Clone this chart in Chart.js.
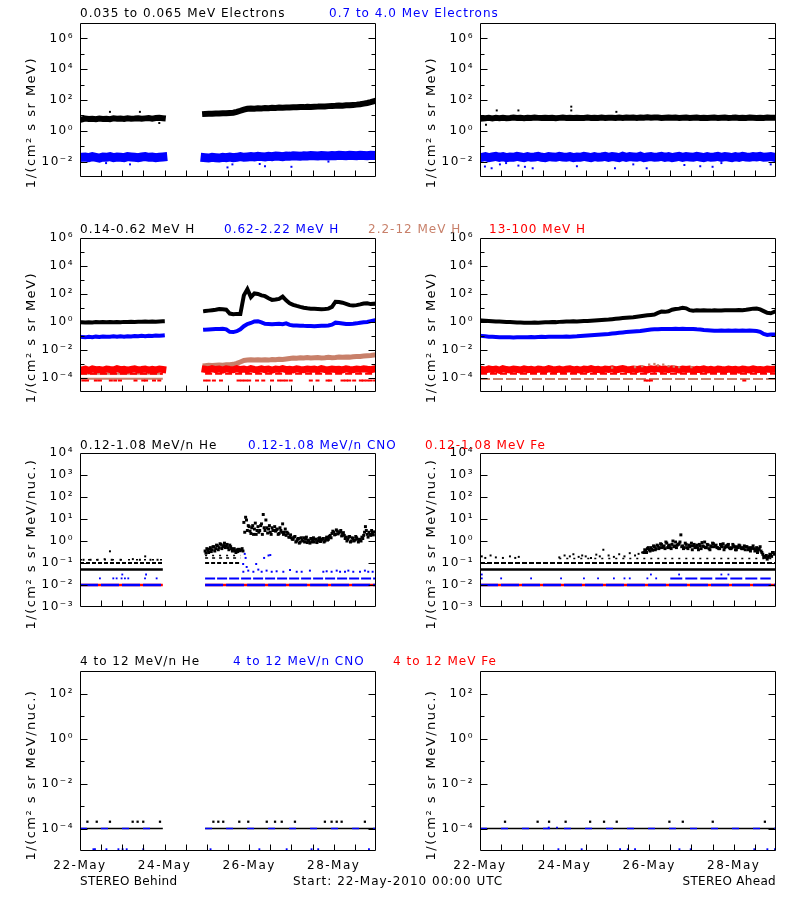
<!DOCTYPE html>
<html><head><meta charset="utf-8">
<script src="https://cdn.jsdelivr.net/npm/chart.js@4.4.1/dist/chart.umd.min.js"></script>
<style>
html,body{margin:0;padding:0;background:#fff;}
#page{position:relative;width:800px;height:900px;background:#fff;overflow:hidden;font-family:"DejaVu Sans",sans-serif;}
canvas.panel{position:absolute;}
.t{position:absolute;font-size:12px;letter-spacing:1px;white-space:nowrap;line-height:16px;}
</style></head><body>
<div id="page">
<canvas id="c1L" class="panel" width="400" height="208" style="left:0;top:9px"></canvas>
<canvas id="c1R" class="panel" width="400" height="208" style="left:400px;top:9px"></canvas>
<canvas id="c2L" class="panel" width="400" height="208" style="left:0;top:224px"></canvas>
<canvas id="c2R" class="panel" width="400" height="208" style="left:400px;top:224px"></canvas>
<canvas id="c3L" class="panel" width="400" height="208" style="left:0;top:439px"></canvas>
<canvas id="c3R" class="panel" width="400" height="208" style="left:400px;top:439px"></canvas>
<canvas id="c4L" class="panel" width="400" height="243" style="left:0;top:657px"></canvas>
<canvas id="c4R" class="panel" width="400" height="243" style="left:400px;top:657px"></canvas>

<div class="t" style="left:80px;top:5px;color:#000">0.035 to 0.065 MeV Electrons</div>
<div class="t" style="left:329px;top:5px;color:#0000ff">0.7 to 4.0 Mev Electrons</div>
<div class="t" style="left:80px;top:221px;color:#000">0.14-0.62 MeV H</div>
<div class="t" style="left:224px;top:221px;color:#0000ff">0.62-2.22 MeV H</div>
<div class="t" style="left:368px;top:221px;color:#c8806a">2.2-12 MeV H</div>
<div class="t" style="left:489px;top:221px;color:#ff0000">13-100 MeV H</div>
<div class="t" style="left:80px;top:437px;color:#000">0.12-1.08 MeV/n He</div>
<div class="t" style="left:248px;top:437px;color:#0000ff">0.12-1.08 MeV/n CNO</div>
<div class="t" style="left:425px;top:437px;color:#ff0000">0.12-1.08 MeV Fe</div>
<div class="t" style="left:80px;top:653px;color:#000">4 to 12 MeV/n He</div>
<div class="t" style="left:233px;top:653px;color:#0000ff">4 to 12 MeV/n CNO</div>
<div class="t" style="left:393px;top:653px;color:#ff0000">4 to 12 MeV Fe</div>
<div class="t" style="left:80px;top:873px;color:#000;letter-spacing:0.3px">STEREO Behind</div>
<div class="t" style="left:293px;top:873px;color:#000">Start: 22-May-2010 00:00 UTC</div>
<div class="t" style="right:24px;top:873px;color:#000;letter-spacing:0.3px">STEREO Ahead</div>
</div>
<script>
// ---------- axis tick values / labels ----------
const xTickHours = [0, 48, 96, 144];
const xTickLabels = ['22-May', '24-May', '26-May', '28-May'];
const yTicksElec = [1e-2, 1, 1e2, 1e4, 1e6];
const yTicksH = [1e-4, 1e-2, 1, 1e2, 1e4, 1e6];
const yTicksLowE = [1e-3, 1e-2, 1e-1, 1, 1e1, 1e2, 1e3, 1e4];
const yTicksHighE = [1e-4, 1e-2, 1, 1e2];

// ---------- Row 1: electrons (values every 2 h, starting hour 1) ----------
const elecLoB = [5.5,6.2,5.8,6.0,5.6,6.3,5.9,6.1,5.7,6.4,6.0,6.2,5.8,6.5,6.1,6.3,6.6,6.0,6.4,6.8,6.2,6.7,7.0,6.6,
  null,null,null,null,null,null,null,null,null,null,null,
  12.5,13,12.8,13.5,13.2,14,13.6,14.5,15,17,20,24,27,28,27,29,28.5,30,29.5,31,30.5,32,31.5,33,32.5,34,33.5,35,34.5,
  36,35.5,37,37.5,38.5,38,40,41,42,44,43,46,45,48,50,53,58,64,72,85];
const elecHiB = [0.019,0.020,0.018,0.021,0.019,0.017,0.020,0.019,0.021,0.018,0.020,0.019,0.018,0.021,0.020,0.019,0.018,0.020,0.021,0.019,0.020,0.018,0.019,0.020,
  null,null,null,null,null,null,null,null,null,null,null,
  0.018,0.017,0.019,0.018,0.017,0.019,0.018,0.020,0.018,0.019,0.021,0.019,0.020,0.021,0.020,0.022,0.021,0.020,0.022,0.021,
  0.023,0.022,0.021,0.023,0.022,0.024,0.023,0.022,0.024,0.023,0.025,0.024,0.023,0.025,0.024,0.023,0.025,0.024,0.026,0.025,
  0.024,0.026,0.025,0.024,0.026,0.025,0.024,0.026,0.025];
const elecLoBOutH = [17, 34, 45];
const elecLoBOutV = [17, 17, 3.2];
const elecHiBOutH = [14.8, 28.4, 83.7, 86.5, 102, 105, 120, 141];
const elecHiBOutV = [0.008, 0.0066, 0.0042, 0.0066, 0.007, 0.005, 0.0046, 0.01];

const elecLoA = [6.2,6.6,6.9,6.4,7.0,6.6,7.1,6.5,6.8,7.2,6.7,6.9,
  6.6,7.0,6.8,7.2,6.9,6.7,7.1,6.8,7.0,6.6,6.9,7.2,
  6.8,7.0,6.7,7.1,6.9,6.8,7.2,6.7,7.0,6.9,7.3,6.8,
  7.1,7.0,6.8,7.2,6.9,7.4,7.0,7.2,6.9,7.3,7.1,7.5,
  7.0,7.2,7.4,6.9,7.1,7.3,7.0,7.2,6.9,7.1,7.3,6.8,
  7.0,7.2,6.9,7.1,6.8,7.0,7.2,6.9,7.1,7.3,6.9,7.0,
  7.2,6.8,7.1,6.9,7.2,7.0,6.8,7.1,6.9,7.2,7.0,7.1];
const elecHiA = [0.019,0.021,0.018,0.020,0.022,0.019,0.021,0.018,0.020,0.019,0.022,0.020,
  0.018,0.021,0.019,0.020,0.022,0.019,0.018,0.021,0.020,0.019,0.022,0.020,
  0.019,0.021,0.018,0.020,0.019,0.022,0.020,0.018,0.021,0.019,0.020,0.022,
  0.019,0.021,0.020,0.018,0.022,0.019,0.021,0.020,0.019,0.022,0.018,0.020,
  0.021,0.019,0.020,0.022,0.019,0.021,0.018,0.020,0.022,0.019,0.021,0.020,
  0.019,0.022,0.020,0.018,0.021,0.019,0.020,0.022,0.019,0.021,0.020,0.018,
  0.021,0.019,0.022,0.020,0.019,0.021,0.020,0.022,0.019,0.020,0.021,0.019];
const elecLoAOutH = [3.4, 9.5, 21.8, 51.8, 51.8, 77.4];
const elecLoAOutV = [2.5, 21, 21, 37, 21, 17];
const elecHiAOutH = [2.8, 6.6, 11.3, 14.8, 21.8, 25.5, 29.9, 55, 76.6, 87, 94.6, 116, 125, 132, 137, 165];
const elecHiAOutV = [0.0048, 0.0037, 0.0066, 0.008, 0.0055, 0.0046, 0.0037, 0.005, 0.0037, 0.0066, 0.0037, 0.006, 0.005, 0.0046, 0.008, 0.0066];

// ---------- Row 2: protons (values every 2 h, starting hour 1) ----------
const protBlackB = [0.95,0.92,0.97,0.94,0.98,0.95,0.99,0.96,1.0,0.97,1.01,0.98,1.02,1.0,1.04,1.01,1.05,1.03,1.07,1.04,1.08,1.06,1.1,1.12,
  null,null,null,null,null,null,null,null,null,null,null,
  6.0,6.5,7.0,7.5,8.5,8.0,7.5,4.0,3.6,3.8, 3.7,80,220,60,110,100,80,70,50,38,
  40,45,65,35,22,17,14,12,10.5,9.5, 9.0,8.8,8.5,8.3,8.5,9.0,12,28,27,24, 20,16,15,16,18,21,22,19,20];
const protBlueB = [0.085,0.08,0.088,0.082,0.09,0.085,0.092,0.087,0.09,0.094,0.088,0.095,0.09,0.097,0.093,0.1,0.095,0.102,0.098,0.105,0.1,0.108,0.104,0.11,
  null,null,null,null,null,null,null,null,null,null,null,
  0.28,0.29,0.3,0.31,0.32,0.33,0.3,0.2,0.19,0.22, 0.3,0.5,0.72,0.85,1.1,1.15,0.95,0.75,0.72,0.7,
  0.72,0.75,0.7,0.8,0.62,0.57,0.56,0.55,0.53,0.52, 0.52,0.5,0.52,0.54,0.55,0.57,0.65,0.9,0.85,0.78,
  0.72,0.72,0.75,0.8,0.88,0.95,1.0,1.15,1.3];
const protTanB = [null,null,null,null,null,null,null,null,null,null,null,null,null,null,null,null,null,null,null,null,null,null,null,null,
  null,null,null,null,null,null,null,null,null,null,null,
  7.5e-4,8e-4,7.8e-4,8.2e-4,8.5e-4,8.3e-4,8.8e-4,9e-4,9.5e-4,1.1e-3, 1.4e-3,1.8e-3,1.9e-3,2.0e-3,1.9e-3,2.0e-3,1.95e-3,2.0e-3,1.9e-3,2.1e-3,
  2.0e-3,2.2e-3,2.1e-3,2.3e-3,2.5e-3,2.7e-3,2.6e-3,2.8e-3,2.7e-3,2.9e-3, 2.7e-3,2.8e-3,2.9e-3,2.7e-3,2.8e-3,3.0e-3,2.8e-3,2.9e-3,3.1e-3,3.0e-3,
  3.2e-3,3.1e-3,3.3e-3,3.4e-3,3.5e-3,3.7e-3,3.9e-3,4.1e-3,4.4e-3];
const protRedB = [3.8e-4,4.3e-4,3.5e-4,4.5e-4,3.9e-4,4.1e-4,3.6e-4,4.4e-4,4.0e-4,3.7e-4,4.6e-4,3.9e-4,4.2e-4,3.6e-4,4.1e-4,4.5e-4,3.8e-4,4.0e-4,4.4e-4,3.7e-4,4.2e-4,3.8e-4,4.3e-4,4.0e-4,
  null,null,null,null,null,null,null,null,null,null,null,
  4.2e-4,3.8e-4,4.6e-4,4.0e-4,4.4e-4,3.7e-4,4.5e-4,4.1e-4,3.9e-4,4.7e-4, 4.0e-4,4.3e-4,3.8e-4,4.6e-4,4.1e-4,3.9e-4,4.5e-4,4.0e-4,4.4e-4,3.7e-4,
  4.3e-4,4.0e-4,4.6e-4,3.9e-4,4.2e-4,3.8e-4,4.5e-4,4.1e-4,3.9e-4,4.4e-4, 4.0e-4,4.3e-4,3.8e-4,4.6e-4,4.1e-4,3.9e-4,4.4e-4,4.0e-4,4.2e-4,3.8e-4,
  4.5e-4,4.1e-4,3.9e-4,4.3e-4,4.0e-4,4.6e-4,4.2e-4,3.9e-4,4.4e-4];
const protLowB = [1.9, 4, 9, 11.3, 17.5, 20, 22.7, 31.5, 35.9, 37.5, 42, 45, 71, 73, 76, 80, 90, 92, 94, 96, 100.5, 104, 109, 113, 115, 117, 119.6, 131, 134.8, 140.5, 142, 149, 151, 152.8, 155.6, 159.4, 161, 163, 165, 167.5];

const protBlackA = [1.3,1.25,1.2,1.15,1.1,1.08,1.05,1.0,0.98,0.95, 0.93,0.92,0.9,0.88,0.9,0.92,0.9,0.93,0.95,0.97,
  1.0,0.98,1.02,1.05,1.08,1.1,1.12,1.1,1.15,1.2, 1.18,1.25,1.3,1.35,1.4,1.45,1.5,1.6,1.7,1.8,
  1.9,2.0,2.1,2.2,2.4,2.6,2.8,3.0,3.2,3.4, 4.5,5.5,5.3,5.8,7.5,8.5,9.0,10.5,9.5,7.0,
  6.5,6.8,6.6,6.9,6.7,6.5,6.8,6.7,6.6,6.9, 6.8,7.0,6.9,7.2,7.0,7.5,8.2,9.0,9.3,8.0, 6.0,4.5,4.2,5.3];
const protBlueA = [0.1,0.095,0.09,0.088,0.085,0.083,0.08,0.082,0.08,0.078, 0.08,0.082,0.08,0.083,0.085,0.083,0.085,0.087,0.085,0.088,
  0.087,0.09,0.088,0.09,0.092,0.09,0.093,0.095,0.1,0.105, 0.11,0.115,0.12,0.125,0.13,0.135,0.14,0.15,0.16,0.17,
  0.18,0.19,0.2,0.21,0.22,0.23,0.25,0.27,0.29,0.3, 0.3,0.31,0.32,0.31,0.32,0.33,0.32,0.33,0.32,0.31,
  0.32,0.3,0.29,0.27,0.26,0.25,0.24,0.24,0.25,0.24, 0.25,0.24,0.25,0.24,0.25,0.24,0.25,0.24,0.23,0.2, 0.14,0.12,0.13,0.13];
const protRedA = [4.1e-4,3.7e-4,4.5e-4,3.9e-4,4.3e-4,3.6e-4,4.6e-4,4.0e-4,3.8e-4,4.4e-4,4.1e-4,3.7e-4,
  4.5e-4,3.9e-4,4.2e-4,3.6e-4,4.4e-4,4.0e-4,3.8e-4,4.6e-4,4.1e-4,3.9e-4,4.3e-4,3.7e-4,
  4.2e-4,4.5e-4,3.8e-4,4.1e-4,3.6e-4,4.4e-4,4.0e-4,4.6e-4,3.9e-4,4.2e-4,3.7e-4,4.3e-4,
  4.0e-4,4.5e-4,3.8e-4,4.2e-4,4.7e-4,4.1e-4,3.9e-4,4.4e-4,4.0e-4,4.6e-4,4.2e-4,3.8e-4,
  4.5e-4,4.1e-4,4.8e-4,4.0e-4,4.4e-4,3.9e-4,4.6e-4,4.2e-4,3.8e-4,4.4e-4,4.0e-4,4.3e-4,
  3.7e-4,4.2e-4,3.9e-4,4.5e-4,3.8e-4,4.1e-4,3.6e-4,4.4e-4,4.0e-4,3.8e-4,4.3e-4,3.9e-4,
  4.2e-4,3.7e-4,4.4e-4,4.0e-4,3.8e-4,4.5e-4,3.9e-4,4.1e-4,3.7e-4,4.3e-4,4.0e-4,4.2e-4];
const tanSprAH = [75, 88, 92, 96, 99, 101, 104, 107, 110, 113, 120];
const tanSprAV = [5.5e-4, 6e-4, 7e-4, 9e-4, 1e-3, 8e-4, 9e-4, 7e-4, 6.5e-4, 6e-4, 6e-4];
const protLowA = [94, 95.5, 97, 150];

// ---------- Row 3: 0.12-1.08 MeV/n ions ----------
const heB1 = [0.35,0.45,0.30,0.50,0.40,0.55,0.45,0.60,0.50,0.70,
  0.55,0.80,0.60,0.50,0.65,0.45,0.40,0.35,0.40,0.42,
  0.38,0.45,7.0,12,3.0,4.5,2.2,5.0,3.5,2.0,
  4.5,3.0,6.0,16,3.0,4.0,3.5,2.5,4.0,3.0,
  2.8,3.5,2.2,3.0,6.0,2.5,1.8,2.2,1.5,1.4,
  1.2,1.6,1.0,1.3,0.9,1.1,1.4,1.2,0.85,1.0,
  1.3,1.1,0.9,1.2,1.0,1.4,1.1,1.3,1.0,1.5,
  1.2,1.8,2.2,2.5,2.0,2.8,2.4,3.0,2.2,1.8,
  1.5,1.2,1.6,1.0,1.3,1.1,1.4,0.9,1.2,1.5,
  1.8,4.5,2.0,2.5,1.8,2.2,2.6];
const heB2 = [0.28,0.38,0.42,0.33,0.55,0.35,0.65,0.40,0.75,0.45,
  0.62,0.50,0.70,0.40,0.55,0.35,0.45,0.30,0.33,0.36,
  0.40,0.35,2.5,9.0,5.0,2.8,4.0,2.0,6.5,3.0,
  2.5,5.0,2.0,4.0,9.0,2.3,5.0,2.0,3.0,4.5,
  3.2,2.0,4.0,2.5,2.0,3.5,2.5,1.5,1.9,1.2,
  1.5,0.9,1.2,0.8,1.4,1.0,0.9,1.5,1.1,0.8,
  0.9,1.4,1.2,0.85,1.3,0.95,1.2,0.9,1.3,1.1,
  1.6,1.4,2.8,1.9,3.2,2.1,2.6,1.7,2.4,1.3,
  1.0,1.5,0.9,1.4,1.0,1.6,1.2,1.1,1.0,1.3,
  2.5,3.0,1.5,2.0,3.0,1.9];
const heBSparseH = [2, 6, 10, 14, 17, 18, 23, 30, 34, 37, 40, 44];
const heBSparseV = [0.14, 0.14, 0.14, 0.15, 0.34, 0.14, 0.14, 0.15, 0.14, 0.2, 0.14, 0.14];
const cnoB02H = [11.3, 18.9, 20.8, 23.6, 25.5, 27.4, 36.9, 43.5];
const cnoB03H = [24, 37.5];
const cnoB04H = [92.7, 95.5, 98.4, 101.2, 103.1, 105.9, 108.8, 111.6, 115.4, 119.2, 123, 125.8, 130.5, 138.1, 140, 142.8, 145.7, 147.6, 150.4, 152.3, 155.1, 158.9, 161.7, 163.6, 166.1];
const cnoB04V = [0.04, 0.045, 0.04, 0.05, 0.04, 0.045, 0.04, 0.042, 0.04, 0.048, 0.04, 0.04, 0.045, 0.04, 0.042, 0.04, 0.045, 0.04, 0.04, 0.045, 0.04, 0.04, 0.045, 0.04, 0.04];
const cnoBHiH = [92.6, 93.5, 94, 94.6, 100, 104.5, 107, 108];
const cnoBHiV = [0.09, 0.26, 0.17, 0.066, 0.09, 0.17, 0.22, 0.23];

const heA1 = [0.3,0.35,0.45,0.4,0.5,0.38,0.55,0.45,0.6,0.5,
  0.7,0.55,0.45,0.8,0.6,0.5,0.7,0.55,0.9,0.65,
  0.75,1.9,0.6,0.5,0.7,0.45,0.55,0.8,0.6,0.5,
  0.65,0.4,0.6,0.85,0.55,0.5,0.7,0.45,0.6,0.8,
  0.55,0.65,0.5,0.45,0.6,0.75,0.5,0.55,0.7,0.45,
  0.5,0.6,0.4,0.55,0.65,0.5,0.45,0.6,0.55,0.4,
  0.5,0.45,0.6,0.35,0.5,0.4,0.55,0.3,0.2,0.18,
  0.15,0.2,0.22,0.3,0.25];
const heA2 = [0.4,0.3,0.5,0.35,0.42,0.6,0.4,0.65,0.45,0.75,
  0.5,0.6,0.9,0.5,0.65,0.45,1.0,0.6,0.5,0.7,
  0.9,0.55,0.45,0.8,0.5,0.65,0.6,0.4,0.7,0.55,
  0.5,0.7,0.45,0.6,0.9,0.5,0.65,0.4,0.55,0.75,
  0.6,0.5,0.45,0.7,0.55,0.4,0.6,0.65,0.5,0.45,
  0.7,0.55,0.4,0.5,0.6,0.45,0.5,0.4,0.55,0.45,
  0.35,0.5,0.45,0.4,0.3,0.45,0.35,0.25,0.2,0.22,
  0.18,0.25,0.2,0.3];
const heASparseH = [1, 3, 6, 9, 13, 17, 20, 22, 45, 48, 51, 53, 56, 58, 60, 63, 66, 68, 70, 73, 76, 79, 82, 85, 88, 90, 92];
const heASparseV = [0.2, 0.17, 0.22, 0.18, 0.17, 0.2, 0.17, 0.19, 0.18, 0.22, 0.2, 0.25, 0.19, 0.22, 0.2, 0.17, 0.24, 0.2, 0.4, 0.22, 0.19, 0.25, 0.2, 0.28, 0.22, 0.26, 0.3];
const cnoA02H = [1, 12, 29, 46, 59, 67, 76, 82, 85, 95, 100];
const cnoA03H = [1, 97, 113, 137, 141];

// ---------- Row 4: 4-12 MeV/n ions ----------
const heHiBH = [4.2, 9.5, 17, 29.9, 32.7, 35.9, 45.4, 75.7, 78.5, 81.3, 90.4, 95.5, 106, 110.7, 114.5, 122, 139, 142.8, 145.7, 148.5, 161.7];
const cnoHiBH = [7.6, 8.5, 15, 21.8, 24.2, 26.5, 35.9, 74.1, 101.8, 117.3, 131.4, 135.2, 164];
const heHiAH = [14.2, 32.7, 39.2, 48.6, 62.5, 70.4, 77.6, 107.5, 115.1, 132.1, 161.7];
const cnoHiAH = [44.5, 57.7, 79.5, 83.9, 88, 113.2, 119.6, 155.7, 163.1, 167.4];
const cnoHiAMidH = [39, 43.7];

// ---------- helpers ----------
const BLACK = '#000000', BLUE = '#0000ff', RED = '#ff0000', TAN = '#c8806a';
const FONT = 'DejaVu Sans';
const SUP = {'-':'\u207b','0':'\u2070','1':'\u00b9','2':'\u00b2','3':'\u00b3','4':'\u2074','5':'\u2075','6':'\u2076','7':'\u2077','8':'\u2078','9':'\u2079'};
function powLabel(v){ const e = Math.round(Math.log10(v)); return '10' + String(e).split('').map(c => SUP[c]).join(''); }
function series(start, step, vals){ return vals.map((v, i) => ({x: start + i * step, y: v})); }
function pairs(hs, vs){ return hs.map((h, i) => ({x: h, y: vs[i]})); }
function at(v, hs){ return hs.map(h => ({x: h, y: v})); }
function level(v, ranges){
  const pts = [];
  ranges.forEach((r, k) => {
    if (k > 0) pts.push({x: (ranges[k-1][1] + r[0]) / 2, y: null});
    pts.push({x: r[0], y: v}, {x: r[1], y: v});
  });
  return pts;
}
function band(data, color, w){ return {data, borderColor: color, borderWidth: w, pointRadius: 0, showLine: true, spanGaps: false, clip: 0, tension: 0, borderCapStyle: 'square'}; }
function lvl(data, color, w, dash){ return {data, borderColor: color, borderWidth: w, borderDash: dash || [], pointRadius: 0, showLine: true, spanGaps: false, clip: 0}; }
function dots(data, color, r){ return {data, showLine: false, pointStyle: 'rect', pointRadius: r, pointBackgroundColor: color, pointBorderColor: color, pointBorderWidth: 0, borderColor: color, clip: 0}; }
function dashes(data, color, r){ return {data, showLine: false, pointStyle: 'line', pointRadius: r, pointBorderColor: color, borderColor: color, pointBorderWidth: 2, clip: 0}; }

const framePlugin = {
  id: 'frame',
  beforeDraw(chart){ chart.ctx.letterSpacing = '1.5px'; },
  afterDraw(chart, args, opts){
    const ctx = chart.ctx, a = chart.chartArea, x = chart.scales.x, y = chart.scales.y;
    ctx.save();
    ctx.strokeStyle = '#000'; ctx.lineWidth = 1;
    const L = Math.round(a.left) + 0.5, R = Math.round(a.right) - 0.5, T = Math.round(a.top) + 0.5, B = Math.round(a.bottom) - 0.5;
    ctx.beginPath();
    ctx.rect(L, T, R - L, B - T);
    const lo = Math.round(Math.log10(y.min)), hi = Math.round(Math.log10(y.max));
    for (let e = lo + 1; e < hi; e++){
      const py = Math.round(y.getPixelForValue(Math.pow(10, e))) + 0.5;
      const len = opts.majorExp.includes(e) ? 7 : 4;
      ctx.moveTo(L, py); ctx.lineTo(L + len, py);
      ctx.moveTo(R, py); ctx.lineTo(R - len, py);
    }
    for (let h = 12; h < 168; h += 12){
      const px = Math.round(x.getPixelForValue(h)) + 0.5;
      ctx.moveTo(px, B); ctx.lineTo(px, B - 6);
    }
    ctx.stroke();
    ctx.restore();
  }
};

function panel(id, yMin, yMax, yTicks, yTitle, showX, layers){
  new Chart(document.getElementById(id), {
    type: 'line',
    data: { datasets: layers.slice().reverse() },
    options: {
      responsive: false, animation: false, events: [],
      layout: { padding: { top: 14, right: 24, bottom: showX ? 23 : 14, left: 0 } },
      plugins: { legend: {display: false}, tooltip: {enabled: false},
        frame: { majorExp: yTicks.map(v => Math.round(Math.log10(v))) } },
      scales: {
        x: { type: 'linear', min: 0, max: 168, display: showX,
          grid: {display: false, drawTicks: false}, border: {display: false},
          afterBuildTicks: s => { s.ticks = xTickHours.map(v => ({value: v})); },
          ticks: { autoSkip: false, maxRotation: 0, padding: 8, color: '#000', font: {family: FONT, size: 12},
            callback: v => { const i = xTickHours.indexOf(v); return i >= 0 ? xTickLabels[i] : ''; } },
          afterFit: s => { s.height = 26; } },
        y: { type: 'logarithmic', min: yMin, max: yMax,
          grid: {display: false, drawTicks: false}, border: {display: false},
          afterBuildTicks: s => { s.ticks = yTicks.map(v => ({value: v})); },
          ticks: { autoSkip: false, padding: 6, color: '#000', font: {family: FONT, size: 12}, callback: v => powLabel(v) },
          title: { display: true, text: yTitle, color: '#000', font: {family: FONT, size: 13}, padding: {top: 24, bottom: 0} },
          afterFit: s => { s.width = 80; } }
      }
    },
    plugins: [framePlugin]
  });
}

const NB = '\u00a0';
const T1 = '1/(cm\u00b2 s sr MeV)' + NB.repeat(8);
const T3 = '1/(cm\u00b2 s sr MeV/nuc.)' + NB.repeat(5);
const GAPS = [[0, 47], [71, 168]];
const FULL = [[0, 168]];

// Row 1
panel('c1L', 1e-3, 1e7, yTicksElec, T1, false, [
  band(series(1, 2, elecHiB), BLUE, 9),
  dots(pairs(elecHiBOutH, elecHiBOutV), BLUE, 1.4),
  band(series(1, 2, elecLoB), BLACK, 6),
  dots(pairs(elecLoBOutH, elecLoBOutV), BLACK, 1.4)
]);
panel('c1R', 1e-3, 1e7, yTicksElec, T1, false, [
  band(series(1, 2, elecHiA), BLUE, 9),
  dots(pairs(elecHiAOutH, elecHiAOutV), BLUE, 1.4),
  band(series(1, 2, elecLoA), BLACK, 6),
  dots(pairs(elecLoAOutH, elecLoAOutV), BLACK, 1.4)
]);
// Row 2
panel('c2L', 1e-5, 1e6, yTicksH, T1, false, [
  lvl(level(9e-5, [[0, 47]]), TAN, 2),
  lvl(level(2e-4, [[0, 47]]), TAN, 2),
  lvl(level(2e-4, GAPS), RED, 2, [7, 3]),
  dashes(at(6.6e-5, protLowB), RED, 2),
  band(series(1, 2, protTanB), TAN, 5),
  band(series(1, 2, protRedB), RED, 7),
  band(series(1, 2, protBlueB), BLUE, 4),
  band(series(1, 2, protBlackB), BLACK, 4)
]);
panel('c2R', 1e-5, 1e6, yTicksH, T1, false, [
  lvl(level(8.5e-5, FULL), TAN, 2, [10, 3]),
  lvl(level(2e-4, FULL), RED, 2, [7, 3]),
  dashes(at(6.6e-5, protLowA), RED, 2),
  band(series(1, 2, protRedA), RED, 7),
  dots(pairs(tanSprAH, tanSprAV), TAN, 1.6),
  band(series(1, 2, protBlueA), BLUE, 4),
  band(series(1, 2, protBlackA), BLACK, 4)
]);
// Row 3
panel('c3L', 1e-3, 1e4, yTicksLowE, T3, false, [
  lvl(level(0.01, GAPS), RED, 2.5),
  lvl(level(0.01, GAPS), BLUE, 2.5, [18, 3]),
  dots(at(0.02, cnoB02H), BLUE, 1.3),
  dots(at(0.03, cnoB03H), BLUE, 1.3),
  lvl(level(0.02, [[71, 168]]), BLUE, 2, [10, 2]),
  dots(pairs(cnoB04H, cnoB04V), BLUE, 1.4),
  dots(pairs(cnoBHiH, cnoBHiV), BLUE, 1.4),
  lvl(level(0.05, [[0, 47]]), BLACK, 2.5),
  lvl(level(0.1, [[0, 47], [71, 91]]), BLACK, 2, [4, 2]),
  lvl(level(0.14, [[0, 47]]), BLACK, 1.5, [2, 6]),
  lvl(level(0.17, [[71, 91]]), BLACK, 1.5, [3, 4]),
  lvl(level(0.22, [[71, 91]]), BLACK, 1.5, [2, 5]),
  dots(pairs(heBSparseH, heBSparseV), BLACK, 1.4),
  dots(series(71, 1, heB1), BLACK, 2.1),
  dots(series(71.5, 1, heB2), BLACK, 2.1)
]);
panel('c3R', 1e-3, 1e4, yTicksLowE, T3, false, [
  lvl(level(0.01, FULL), RED, 2.5),
  lvl(level(0.01, FULL), BLUE, 2.5, [18, 3]),
  dots(at(0.02, cnoA02H), BLUE, 1.3),
  lvl(level(0.02, [[108, 165]]), BLUE, 2, [12, 3]),
  dots(at(0.03, cnoA03H), BLUE, 1.3),
  lvl(level(0.05, FULL), BLACK, 2.5),
  lvl(level(0.1, FULL), BLACK, 2, [5, 2]),
  lvl(level(0.16, [[45, 168]]), BLACK, 1.5, [2, 5]),
  dots(pairs(heASparseH, heASparseV), BLACK, 1.4),
  dots(series(93, 1, heA1), BLACK, 2.1),
  dots(series(93.5, 1, heA2), BLACK, 2.1)
]);
// Row 4
panel('c4L', 1e-5, 1e3, yTicksHighE, T3, true, [
  lvl(level(1e-4, GAPS), BLACK, 1.5),
  lvl(level(1e-4, GAPS), BLUE, 1.5, [7, 14]),
  dots(at(2e-4, heHiBH), BLACK, 1.6),
  dots(at(1.2e-5, cnoHiBH), BLUE, 1.3)
]);
panel('c4R', 1e-5, 1e3, yTicksHighE, T3, true, [
  lvl(level(1e-4, FULL), BLACK, 1.5),
  lvl(level(1e-4, FULL), BLUE, 1.5, [7, 14]),
  dots(at(1.1e-4, cnoHiAMidH), BLUE, 1.3),
  dots(at(2e-4, heHiAH), BLACK, 1.6),
  dots(at(1.2e-5, cnoHiAH), BLUE, 1.3)
]);
</script>
</body></html>
